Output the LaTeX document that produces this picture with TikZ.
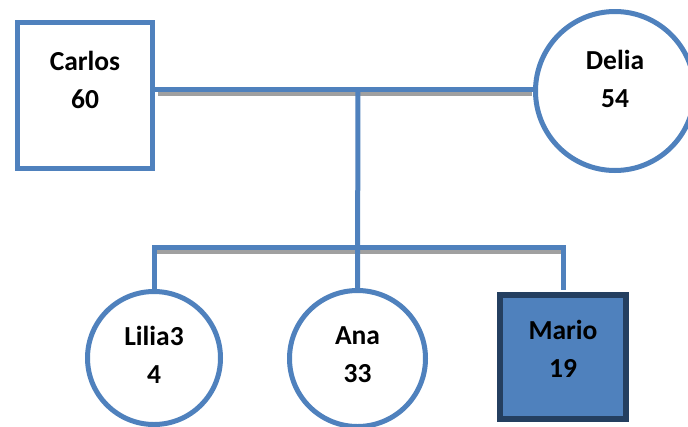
\documentclass[tikz,border=0pt]{standalone}
\usepackage{fontspec}
\setmainfont{Carlito}
\definecolor{accent}{HTML}{4F81BD}
\definecolor{darkaccent}{HTML}{243F60}
\definecolor{shadowgrey}{HTML}{A0A0A0}
\tikzset{
  person/.style={draw=accent, line width=5pt, fill=white, inner sep=0pt},
  male/.style={person, rectangle, minimum width=135pt, minimum height=146pt},
  female/.style={person, circle},
  txt/.style={align=center, text=black},
  link/.style={draw=accent, line width=5pt},
  shadowline/.style={draw=shadowgrey, line width=5pt},
}
\begin{document}
\begin{tikzpicture}[x=1pt,y=-1pt, font=\bfseries\fontsize{27.5}{38}\selectfont]
\useasboundingbox[fill=white] (0,0) rectangle (688,426);
% nodes
\node[male] (carlos) at (85,95.5) {};
\node[female, minimum size=159pt] (delia) at (615,91) {};
\node[female, minimum size=133pt] (lilia) at (154,358) {};
\node[female, minimum size=136pt] (ana) at (357.5,358.5) {};
\node[person, rectangle, draw=darkaccent, fill=accent, line width=5.5pt,
      minimum width=126pt, minimum height=124pt] (mario) at (563,357) {};
% coordinates for the connectors
\coordinate (m) at (358,89.5);
\coordinate (s) at (358,247.5);
\coordinate (ms) at (358,93.5);
\coordinate (ss) at (358,251.5);
% shadows
\draw[shadowline] ([xshift=2.5pt]carlos.east |- ms) -- ([xshift=-1pt]delia.west |- ms);
\draw[shadowline] ([xshift=2.5pt]lilia.north |- ss) -- ([xshift=-2.5pt]mario.north |- ss);
% blue links
\draw[link] ([xshift=-2.5pt]carlos.east |- m) -- ([xshift=2pt]delia.west |- m);
\draw[link] (m) -- (ana.north);
\draw[link, line join=miter] ([yshift=-2pt]lilia.north) -- (lilia.north |- s) -- (mario.north |- s) -- ([yshift=2pt]mario.north);
% labels
\node[txt] at ([yshift=15.5pt]carlos.center) {Carlos\\60};
\node[txt] at ([yshift=12pt]delia.center) {Delia\\54};
\node[txt] at ([yshift=3pt]lilia.center) {Lilia3\\4};
\node[txt] at ([yshift=3.5pt]ana.center) {Ana\\33};
\node[txt] at ([yshift=8pt]mario.center) {Mario\\19};
\end{tikzpicture}
\end{document}
